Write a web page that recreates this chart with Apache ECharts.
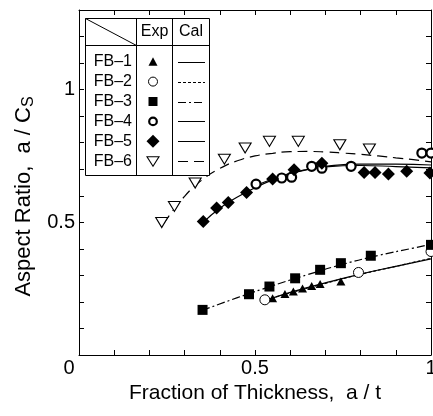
<!DOCTYPE html>
<html>
<head>
<meta charset="utf-8">
<script src="https://cdn.jsdelivr.net/npm/echarts@6/dist/echarts.min.js"></script>
<style>
html,body{margin:0;padding:0;background:#fff;}
#chart{width:433px;height:416px;}
</style>
</head>
<body>
<div id="chart"></div>
<script>
// ---- data ----
const seriesNames = ['FB\u20131', 'FB\u20132', 'FB\u20133', 'FB\u20134', 'FB\u20135', 'FB\u20136'];
const xLabelValues = [0, 0.5, 1];
const yLabelValues = [0.5, 1];

// Experimental points [a/t, a/Cs]
const fb1Exp = [[0.550,0.214],[0.585,0.230],[0.609,0.239],[0.635,0.251],[0.661,0.260],[0.685,0.268],[0.744,0.277]];
const fb2Exp = [[0.528,0.208],[0.794,0.311],[1.000,0.390]];
const fb3Exp = [[0.351,0.170],[0.483,0.229],[0.541,0.258],[0.614,0.289],[0.685,0.321],[0.744,0.346],[0.829,0.374],[1.000,0.415]];
const fb4Exp = [[0.503,0.644],[0.576,0.667],[0.604,0.670],[0.661,0.711],[0.690,0.704],[0.773,0.711],[0.974,0.761],[1.000,0.761]];
const fb5Exp = [[0.353,0.503],[0.391,0.554],[0.424,0.575],[0.476,0.612],[0.550,0.663],[0.611,0.698],[0.690,0.723],[0.810,0.688],[0.841,0.688],[0.879,0.682],[0.931,0.692],[0.997,0.686]];
const fb6Exp = [[0.235,0.499],[0.271,0.560],[0.330,0.648],[0.413,0.738],[0.472,0.780],[0.541,0.805],[0.623,0.805],[0.741,0.792],[0.825,0.776]];

// Calculated curves
const fb1Cal = [[0.53,0.205],[0.60,0.236],[0.70,0.272],[0.80,0.305],[0.90,0.334],[1.00,0.362]];
const fb2Cal = [[0.52,0.203],[0.60,0.234],[0.70,0.270],[0.80,0.304],[0.90,0.334],[1.00,0.364]];
const fb3Cal = [[0.35,0.168],[0.45,0.216],[0.55,0.261],[0.65,0.303],[0.75,0.342],[0.85,0.375],[0.95,0.403],[1.00,0.417]];
const fb4Cal = [[0.50,0.637],[0.55,0.663],[0.60,0.685],[0.65,0.700],[0.70,0.711],[0.80,0.719],[0.90,0.719],[1.00,0.716]];
const fb5Cal = [[0.353,0.500],[0.40,0.553],[0.45,0.595],[0.50,0.630],[0.55,0.660],[0.60,0.683],[0.65,0.699],[0.70,0.709],[0.80,0.714],[0.90,0.710],[1.00,0.705]];
const fb6Cal = [[0.24,0.495],[0.30,0.598],[0.35,0.660],[0.40,0.703],[0.45,0.732],[0.50,0.750],[0.55,0.760],[0.60,0.766],[0.65,0.767],[0.70,0.765],[0.75,0.761],[0.80,0.756],[0.85,0.750],[0.90,0.743],[0.95,0.736],[1.00,0.728]];

const expData = [fb1Exp, fb2Exp, fb3Exp, fb4Exp, fb5Exp, fb6Exp];
const calData = [fb1Cal, fb2Cal, fb3Cal, fb4Cal, fb5Cal, fb6Cal];

// ---- styles ----
const FONT = 'Liberation Sans, Arial, Helvetica, sans-serif';
const symStyles = [
  {symbol:'triangle', size:[9,8], rotate:0, fill:'#000', stroke:'#000', bw:0},
  {symbol:'circle', size:10, rotate:0, fill:'#fff', stroke:'#000', bw:1},
  {symbol:'rect', size:10, rotate:0, fill:'#000', stroke:'#000', bw:0},
  {symbol:'circle', size:9, rotate:0, fill:'#fff', stroke:'#000', bw:2.2},
  {symbol:'diamond', size:13, rotate:0, fill:'#000', stroke:'#000', bw:0},
  {symbol:'triangle', size:[12,10], rotate:180, fill:'#fff', stroke:'#000', bw:1.1}
];
const lineStyles = [
  {type:'solid', width:1.2},
  {type:[3,2], width:1.2},
  {type:[8,3,2,3], width:1.2},
  {type:'solid', width:1.2},
  {type:'solid', width:1.2},
  {type:[10,6], width:1.2}
];

const series = [];
calData.forEach((d, i) => {
  series.push({
    name: seriesNames[i] + ' Cal', type:'line', data:d, smooth:true, showSymbol:false, symbol:'none',
    lineStyle:{color:'#000', width:lineStyles[i].width, type:lineStyles[i].type},
    silent:true, z:2, animation:false
  });
});
expData.forEach((d, i) => {
  const s = symStyles[i];
  series.push({
    name: seriesNames[i] + ' Exp', type:'scatter', data:d, symbol:s.symbol, symbolSize:s.size, symbolRotate:s.rotate,
    itemStyle:{color:s.fill, borderColor:s.stroke, borderWidth:s.bw, opacity:1},
    silent:true, z:3, animation:false, clip:false
  });
});

// ---- legend table (graphic) ----
const L = {x0:85.5, y0:18.5, x1:209.5, y1:175.5, hy:45.5, c1:136.5, c2:172.5, textX:132, symX:153, lx0:178, lx1:205, row0:61.7, rowGap:19.9, hdrY:32};
const g = [];
g.push({type:'rect', shape:{x:L.x0, y:L.y0, width:L.x1-L.x0, height:L.y1-L.y0}, style:{fill:'#fff', stroke:'#000', lineWidth:1}});
g.push({type:'line', shape:{x1:L.x0, y1:L.hy, x2:L.x1, y2:L.hy}, style:{stroke:'#000', lineWidth:1}});
g.push({type:'line', shape:{x1:L.c1, y1:L.y0, x2:L.c1, y2:L.y1}, style:{stroke:'#000', lineWidth:1}});
g.push({type:'line', shape:{x1:L.c2, y1:L.y0, x2:L.c2, y2:L.y1}, style:{stroke:'#000', lineWidth:1}});
g.push({type:'line', shape:{x1:L.x0, y1:L.y0, x2:L.c1, y2:L.hy}, style:{stroke:'#000', lineWidth:1}});
g.push({type:'text', x:(L.c1+L.c2)/2, y:L.hdrY, style:{text:'Exp', font:'16px ' + FONT, fill:'#000', align:'center', verticalAlign:'middle'}});
g.push({type:'text', x:(L.c2+L.x1)/2, y:L.hdrY, style:{text:'Cal', font:'16px ' + FONT, fill:'#000', align:'center', verticalAlign:'middle'}});

function legendSymbol(i, cx, cy) {
  const s = symStyles[i];
  const st = {fill:s.fill, stroke:s.stroke, lineWidth:s.bw};
  if (i === 0) return {type:'polygon', shape:{points:[[cx,cy-4.5],[cx-4.5,cy+4],[cx+4.5,cy+4]]}, style:st};
  if (i === 1) return {type:'circle', shape:{cx:cx, cy:cy, r:4.5}, style:st};
  if (i === 2) return {type:'rect', shape:{x:cx-4.5, y:cy-4.5, width:9, height:9}, style:st};
  if (i === 3) return {type:'circle', shape:{cx:cx, cy:cy, r:3.8}, style:st};
  if (i === 4) return {type:'polygon', shape:{points:[[cx,cy-6.5],[cx+6.5,cy],[cx,cy+6.5],[cx-6.5,cy]]}, style:st};
  return {type:'polygon', shape:{points:[[cx-6,cy-4.5],[cx+6,cy-4.5],[cx,cy+5]]}, style:st};
}
seriesNames.forEach((n, i) => {
  const y = L.row0 + i * L.rowGap;
  g.push({type:'text', x:L.textX, y:y, style:{text:n, font:'16px ' + FONT, fill:'#000', align:'right', verticalAlign:'middle'}});
  g.push(legendSymbol(i, L.symX, y));
  const ls = lineStyles[i];
  g.push({type:'line', shape:{x1:L.lx0, y1:Math.round(y)+0.5, x2:L.lx1, y2:Math.round(y)+0.5},
    style:{stroke:'#000', lineWidth:1, lineDash: ls.type === 'solid' ? null : ls.type}});
});

function isLabel(v, arr){ return arr.some(a => Math.abs(a - v) < 1e-9); }
function fmtNum(v){ return String(Math.round(v*10)/10); }

const tickCommon = {show:true, inside:true, length:5, lineStyle:{color:'#000', width:1}};
const lineCommon = {show:true, onZero:false, lineStyle:{color:'#000', width:1}};

const option = {
  animation:false,
  backgroundColor:'#fff',
  grid:{left:79, right:2, top:10, bottom:61, containLabel:false, outerBoundsMode:'none'},
  xAxis:[{
    type:'value', min:0, max:1, interval:0.1, position:'bottom',
    axisLine:lineCommon, axisTick:tickCommon, splitLine:{show:false},
    axisLabel:{
      show:true, margin:3, color:'#000', fontFamily:FONT, fontSize:20, hideOverlap:false,
      formatter:function(v){ if(!isLabel(v, xLabelValues)) return ''; if (Math.abs(v)<1e-9) return '{z|0}'; return fmtNum(v); },
      rich:{z:{fontFamily:FONT, fontSize:20, color:'#000', padding:[0,20,0,0]}}
    },
    name:'Fraction of Thickness,  a / t', nameLocation:'middle', nameGap:19,
    nameTextStyle:{color:'#000', fontFamily:FONT, fontSize:21}
  },{
    type:'value', min:0, max:1, interval:0.1, position:'top',
    axisLine:lineCommon, axisTick:tickCommon, splitLine:{show:false}, axisLabel:{show:false}
  }],
  yAxis:[{
    type:'value', min:0, max:1.3, interval:0.1, position:'left',
    axisLine:lineCommon, axisTick:tickCommon, splitLine:{show:false},
    axisLabel:{
      show:true, margin:4, color:'#000', fontFamily:FONT, fontSize:20,
      formatter:function(v){ return isLabel(v, yLabelValues) ? fmtNum(v) : ''; }
    },
    name:'Aspect Ratio,  a / C{s|S}', nameLocation:'middle', nameGap:42, nameRotate:90,
    nameTextStyle:{color:'#000', fontFamily:FONT, fontSize:22, padding:[0,28,0,0],
      rich:{s:{fontFamily:FONT, fontSize:16, color:'#000', padding:[9,0,0,0]}}}
  },{
    type:'value', min:0, max:1.3, interval:0.1, position:'right',
    axisLine:lineCommon, axisTick:tickCommon, splitLine:{show:false}, axisLabel:{show:false}
  }],
  series:series,
  graphic:{elements:g.map(e => Object.assign({z:100}, e))}
};

const chart = echarts.init(document.getElementById('chart'), null, {renderer:'canvas'});
chart.setOption(option);
</script>
</body>
</html>
